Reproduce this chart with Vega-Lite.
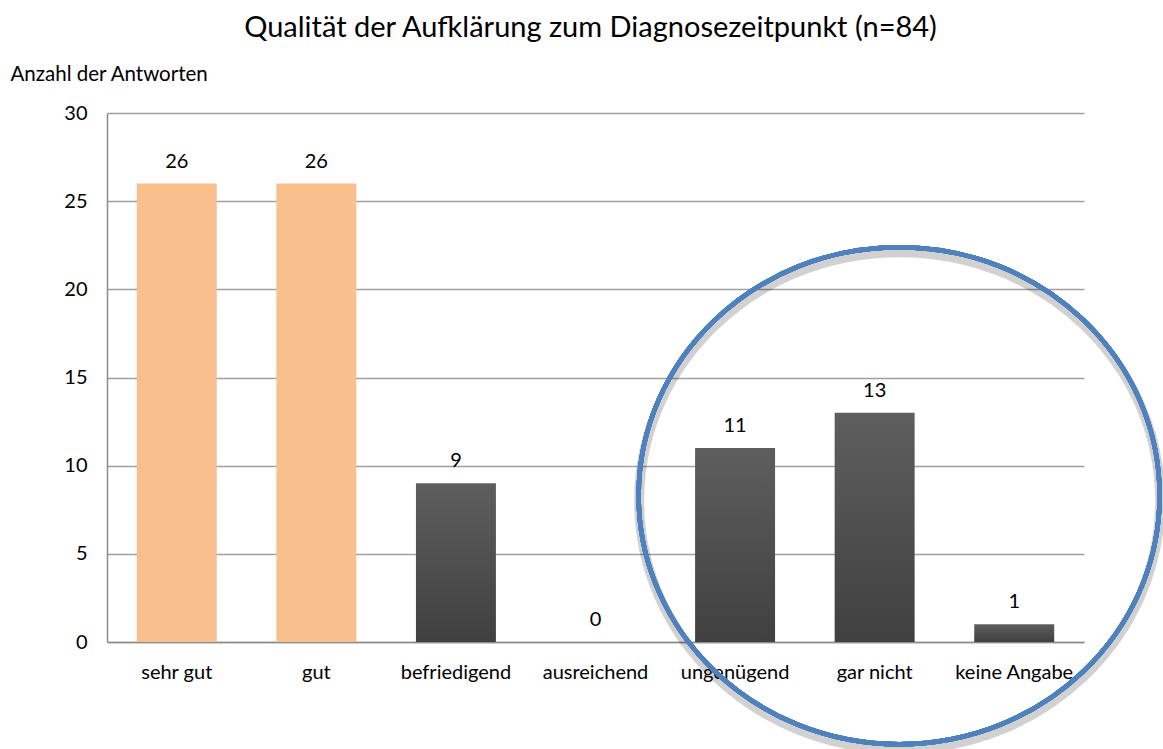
{
  "$schema": "https://vega.github.io/schema/vega-lite/v6.json",
  "width": 977,
  "height": 529,
  "autosize": {"type": "none"},
  "padding": {"left": 107, "top": 113, "right": 79, "bottom": 107},
  "background": "white",
  "config": {"view": {"stroke": null}, "font": "Lato"},
  "title": {
    "text": "Qualität der Aufklärung zum Diagnosezeitpunkt (n=84)",
    "fontSize": 29,
    "fontWeight": "normal",
    "color": "#000000",
    "offset": 21,
    "anchor": "middle",
    "dx": -5
  },
  "data": {
    "values": [
      {"Antwort": "sehr gut", "Anzahl": 26, "Gruppe": "positiv"},
      {"Antwort": "gut", "Anzahl": 26, "Gruppe": "positiv"},
      {"Antwort": "befriedigend", "Anzahl": 9, "Gruppe": "andere"},
      {"Antwort": "ausreichend", "Anzahl": 0, "Gruppe": "andere"},
      {"Antwort": "ungenügend", "Anzahl": 11, "Gruppe": "andere"},
      {"Antwort": "gar nicht", "Anzahl": 13, "Gruppe": "andere"},
      {"Antwort": "keine Angabe", "Anzahl": 1, "Gruppe": "andere"}
    ]
  },
  "layer": [
    {
      "transform": [{"filter": "datum.Gruppe === 'positiv'"}],
      "mark": {"type": "bar", "color": "#F9C08E"},
      "encoding": {
        "x": {
          "field": "Antwort",
          "type": "nominal",
          "sort": null,
          "scale": {
            "domain": ["sehr gut", "gut", "befriedigend", "ausreichend", "ungenügend", "gar nicht", "keine Angabe"],
            "paddingInner": 0.427,
            "paddingOuter": 0.2135
          },
          "axis": {
            "title": null,
            "labelAngle": 0,
            "ticks": false,
            "labelPadding": 20,
            "labelFontSize": 20,
            "labelColor": "#000000",
            "domainColor": "#8c8c8c",
            "domainWidth": 1.5,
            "grid": false
          }
        },
        "y": {
          "field": "Anzahl",
          "type": "quantitative",
          "scale": {"domain": [0, 30], "nice": false},
          "axis": {
            "title": "Anzahl der Antworten",
            "titleAngle": 0,
            "titleAlign": "left",
            "titleBaseline": "middle",
            "titleX": -97,
            "titleY": -39,
            "titleFontSize": 20.5,
            "titleFontWeight": "normal",
            "titleColor": "#000000",
            "values": [0, 5, 10, 15, 20, 25, 30],
            "ticks": false,
            "labelPadding": 20,
            "labelFontSize": 20,
            "labelColor": "#000000",
            "grid": true,
            "gridColor": "#a0a0a0",
            "gridWidth": 1.5,
            "domainColor": "#8c8c8c",
            "domainWidth": 1.5
          }
        }
      }
    },
    {
      "transform": [{"filter": "datum.Gruppe === 'andere'"}],
      "mark": {
        "type": "bar",
        "color": {
          "gradient": "linear",
          "x1": 0, "y1": 0, "x2": 0, "y2": 1,
          "stops": [
            {"offset": 0, "color": "#5e5e5e"},
            {"offset": 1, "color": "#404040"}
          ]
        }
      },
      "encoding": {
        "x": {"field": "Antwort", "type": "nominal", "sort": null},
        "y": {"field": "Anzahl", "type": "quantitative"}
      }
    },
    {
      "mark": {"type": "text", "baseline": "alphabetic", "dy": -16, "fontSize": 20, "color": "#000000"},
      "encoding": {
        "x": {"field": "Antwort", "type": "nominal", "sort": null},
        "y": {"field": "Anzahl", "type": "quantitative"},
        "text": {"field": "Anzahl", "type": "quantitative"}
      }
    },
    {
      "mark": {
        "type": "point",
        "shape": "M 1 0 C 1 0.5269 0.5523 0.954 0 0.954 C -0.5523 0.954 -1 0.5269 -1 0 C -1 -0.5269 -0.5523 -0.954 0 -0.954 C 0.5523 -0.954 1 -0.5269 1 0 Z",
        "size": 271441,
        "filled": false,
        "stroke": "#000000",
        "strokeOpacity": 0.035,
        "strokeWidth": 10,
        "xOffset": 25,
        "yOffset": 5
      },
      "encoding": {
        "x": {"datum": "gar nicht"},
        "y": {"datum": 8.3}
      }
    },
    {
      "mark": {
        "type": "point",
        "shape": "M 1 0 C 1 0.5269 0.5523 0.954 0 0.954 C -0.5523 0.954 -1 0.5269 -1 0 C -1 -0.5269 -0.5523 -0.954 0 -0.954 C 0.5523 -0.954 1 -0.5269 1 0 Z",
        "size": 271441,
        "filled": false,
        "stroke": "#4F81BD",
        "strokeOpacity": 1,
        "opacity": 1,
        "strokeWidth": 4.5,
        "xOffset": 24.5
      },
      "encoding": {
        "x": {"datum": "gar nicht"},
        "y": {"datum": 8.3}
      }
    }
  ]
}
